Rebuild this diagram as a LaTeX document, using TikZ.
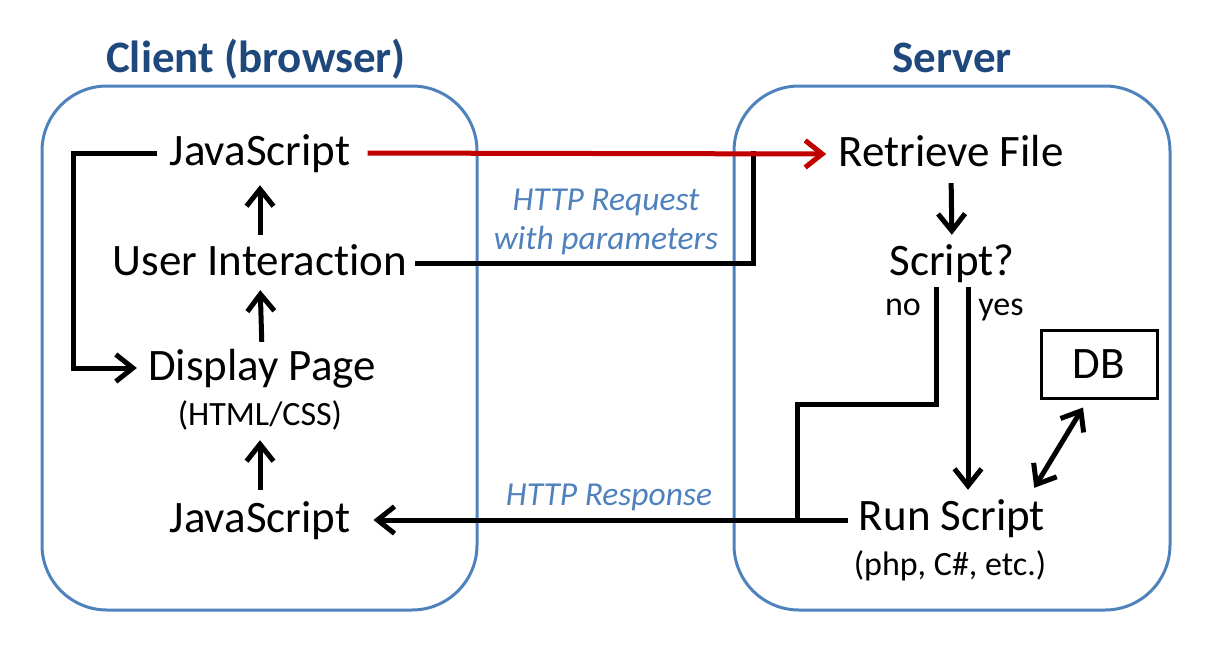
\documentclass[tikz,border=0pt]{standalone}
\usepackage{fontspec}
\setmainfont{Carlito}[Ligatures=NoCommon]
\usetikzlibrary{arrows.meta}
\definecolor{cblue}{RGB}{79,129,189}
\definecolor{ctitle}{RGB}{31,73,125}
\definecolor{cred}{RGB}{192,0,0}
\tikzset{
  big/.style={font=\fontsize{45}{50}\selectfont, inner sep=0pt, text height=30pt, text depth=6pt},
  small/.style={font=\fontsize{34}{38}\selectfont, inner sep=0pt, text height=22pt, text depth=6pt},
  note/.style={font=\fontsize{33.5}{38}\selectfont\itshape, text=cblue, inner sep=0pt},
  ttl/.style={font=\fontsize{45}{50}\selectfont\bfseries, text=ctitle, inner sep=0pt},
  box/.style={draw=cblue, line width=3pt, rounded corners=65pt},
  line/.style={line width=5pt, line join=miter},
  tip/.tip={Straight Barb[length=17pt,width=27pt]},
  arr/.style={line, -tip},
  darr/.style={line, tip-tip},
}
\begin{document}
\begin{tikzpicture}[x=1pt,y=-1pt]
\useasboundingbox (0,0) rectangle (1231,656);
% containers
\node[box, minimum width=435pt, minimum height=524pt] (client) at (259.5,348) {};
\node[box, minimum width=436pt, minimum height=524pt] (server) at (952,348) {};
\node[ttl, anchor=base] (ctl) at (256,72) {Client (browser)};
\node[ttl, anchor=base] (stl) at (952,72) {Server};
% client nodes
\node[big, anchor=base] (js1) at (260,165) {JavaScript};
\node[big, anchor=base] (ui) at (260,275) {User Interaction};
\node[big, anchor=base] (dp) at (262,380) {Display Page};
\node[small, anchor=base] (dps) at (260,425) {(HTML/CSS)};
\node[big, anchor=base] (js2) at (260,532) {JavaScript};
% server nodes
\node[big, anchor=base] (rf) at (951,166) {Retrieve File};
\node[big, anchor=base] (sc) at (952,275) {Script?};
\node[big, anchor=base] (rs) at (952,530) {Run Script};
\node[small, anchor=base] (rss) at (950,575) {(php, C\#, etc.)};
\node[draw, line width=3pt, minimum width=116pt, minimum height=68pt, font=\fontsize{45}{50}\selectfont] (db) at (1099,364) {DB};
\node[small, anchor=base] (no) at (903,315) {no};
\node[small, anchor=base] (yes) at (1001,315) {yes};
% labels
\node[note, anchor=base] (rq1) at (606,210) {HTTP Request};
\node[note, anchor=base] (rq2) at (606,249) {with parameters};
\node[note, anchor=base] (rsp) at (609,505) {HTTP Response};
% helper coordinates
\coordinate (loopc) at (73,153);
\coordinate (reqj) at (753,151);
\coordinate (nostep) at (797,404);
% client arrows
\draw[arr, shorten <=10pt, shorten >=14pt] (ui.north) -- (js1.south);
\draw[arr, shorten <=8pt, shorten >=9pt] (dp.north) -- (ui.south);
\draw[arr, shorten <=12pt, shorten >=9pt] (js2.north) -- (dps.south);
\draw[arr, shorten <=12pt, shorten >=11pt] (js1.west) -| (loopc) |- (dp.west);
% request
\draw[line, shorten <=8pt] (ui.east) -| (reqj);
\draw[arr, draw=cred, shorten <=17pt, shorten >=12pt] (js1.east) -- (rf.west);
% server arrows
\draw[arr, shorten <=11pt, shorten >=10pt] (rf.south) -- (sc.north);
\draw[arr, shorten <=6pt, shorten >=10pt] ([xshift=16pt]sc.south) -- ([xshift=16pt]rs.north);
\draw[line, shorten <=6pt] ([xshift=-16pt]sc.south) |- (nostep) -- (nostep |- js2.east);
\draw[arr, shorten <=11pt, shorten >=23pt] (rs.west |- js2.east) -- (js2.east);
\draw[darr] ([xshift=-11pt,yshift=12pt]rs.north east) -- ([xshift=-16pt,yshift=-8pt]db.south);
\end{tikzpicture}
\end{document}
